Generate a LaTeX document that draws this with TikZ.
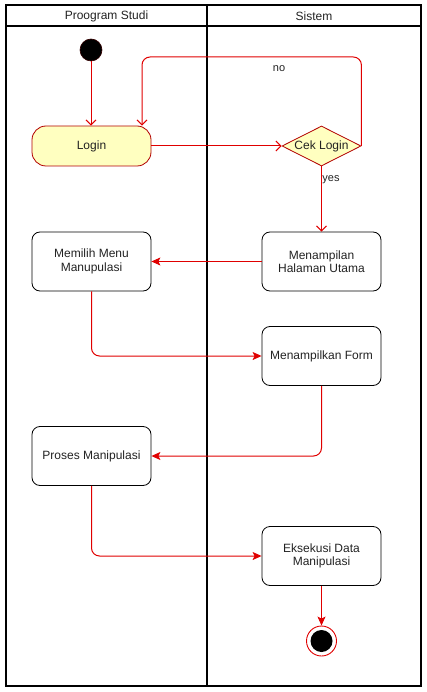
\documentclass[tikz,border=0pt]{standalone}
\usepackage{fontspec}
\setmainfont{Liberation Sans}
\usetikzlibrary{arrows.meta,shapes.geometric}
\definecolor{flowred}{HTML}{E00000}
\definecolor{darkred}{HTML}{B20000}
\definecolor{loginfill}{HTML}{FFFFC0}
\definecolor{txt}{HTML}{222222}
\tikzset{
  lane/.style={draw=black, line width=1.6pt},
  lanehead/.style={font=\fontsize{12}{14}\selectfont, text=txt},
  act/.style={draw=black, line width=0.8pt, rounded corners=8pt, minimum width=119pt, minimum height=59pt, align=center, inner sep=2pt, font=\fontsize{12}{13.5}\selectfont, text=txt},
  loginbox/.style={draw=darkred, fill=loginfill, line width=0.8pt, rounded corners=14pt, minimum width=119pt, minimum height=40pt, font=\fontsize{12}{14}\selectfont, text=txt},
  decision/.style={diamond, draw=darkred, fill=loginfill, line width=0.8pt, minimum width=79pt, minimum height=40pt, inner sep=0pt, aspect=2},
  startdot/.style={circle, fill=black, draw=black!80!red, line width=0.6pt, minimum size=22pt, inner sep=0pt},
  enddot/.style={circle, draw=flowred, fill=white, line width=0.9pt, minimum size=30pt, inner sep=0pt,
    path picture={\fill[black] (path picture bounding box.center) circle (11pt);}},
  flowopen/.style={draw=flowred, line width=1pt, -{Straight Barb[length=5pt,width=10pt]}, rounded corners=8pt},
  flowfill/.style={draw=flowred, line width=1pt, -{Stealth[length=9pt,width=8pt,inset=2pt]}, rounded corners=8pt},
  guard/.style={font=\fontsize{11}{13}\selectfont, text=txt}
}
\begin{document}
\begin{tikzpicture}[x=1pt,y=-1pt]
\useasboundingbox (0,0) rectangle (427,692);
% swimlanes
\draw[lane] (6,5) rectangle (421,686);
\draw[lane] (6,26) -- (421,26);
\draw[lane] (207,5) -- (207,686);
\node[lanehead] (h1) at (106.5,16) {Proogram Studi};
\node[lanehead] (h2) at (314,16) {Sistem};
% nodes
\node[startdot] (start) at (91,50) {};
\node[loginbox] (login) at (91.5,146) {Login};
\node[decision, label={[font=\fontsize{12}{14}\selectfont, text=txt]center:Cek Login}] (cek) at (321.5,146) {};
\node[act] (mh) at (321.5,261.5) {Menampilan\\Halaman Utama};
\node[act] (mm) at (91.5,261.5) {Memilih Menu\\Manupulasi};
\node[act] (mf) at (321.5,356) {Menampilkan Form};
\node[act] (pm) at (91.5,456) {Proses Manipulasi};
\node[act] (ek) at (321.5,556) {Eksekusi Data\\Manipulasi};
\node[enddot] (end) at (321.5,641) {};
\coordinate (notop) at (142,57);
% flows
\draw[flowopen] (start) -- (login.north -| start);
\draw[flowopen] (login.east) -- (cek.west);
\draw[flowopen] (cek.east) |- (notop) -- (notop |- login.north);
\node[guard] (no) at (279,69) {no};
\draw[flowopen] (cek.south) -- (mh.north);
\node[guard] (yes) at (331,180) {yes};
\draw[flowfill] (mh.west) -- (mm.east);
\draw[flowfill] (mm.south) |- (mf.west);
\draw[flowfill] (mf.south) |- (pm.east);
\draw[flowfill] (pm.south) |- (ek.west);
\draw[flowfill] (ek.south) -- (end.north);
\end{tikzpicture}
\end{document}
